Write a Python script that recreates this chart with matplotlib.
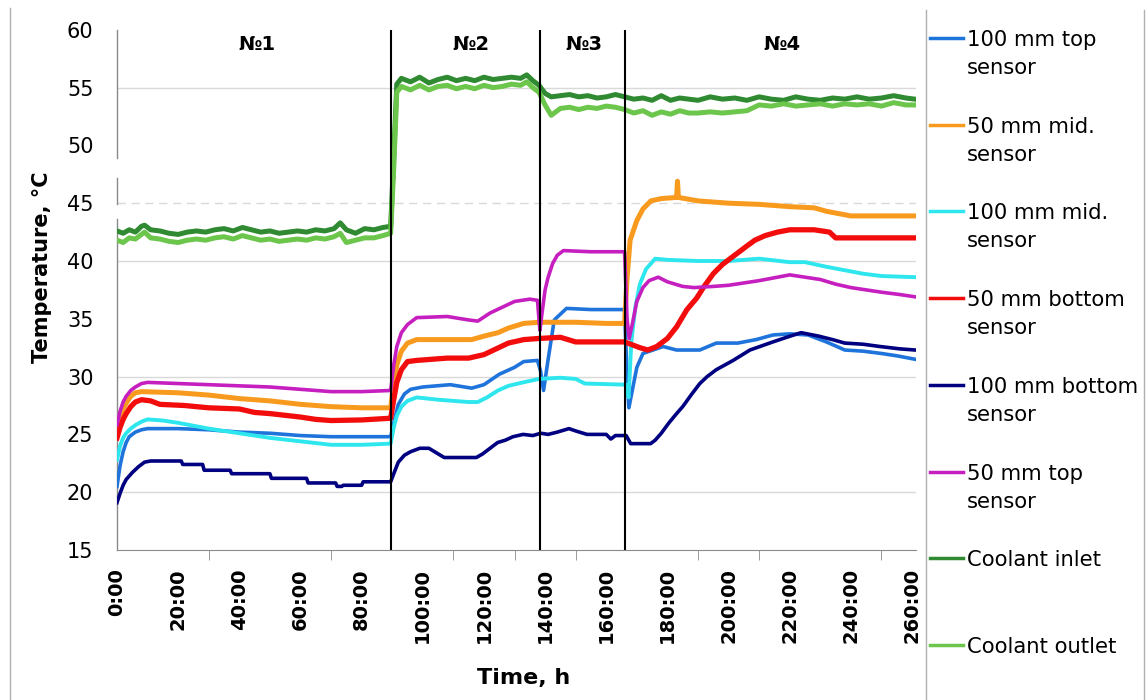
import matplotlib
matplotlib.use("Agg")
import matplotlib.pyplot as plt
from matplotlib.lines import Line2D

# ---- values (time in h, temperature in °C) ----
blue_t = [0, 1, 2, 3, 4, 6, 8, 10, 20, 30, 40, 50, 60, 70, 80, 89.5, 90.5, 92, 94, 96, 100,
          109, 116, 120, 125, 130, 133, 137.5, 138.5, 139.5, 141, 143, 147, 155, 166,
          166.8, 167.4, 170, 172, 178.6, 183, 190.6, 196, 203, 209, 214.5, 220, 226,
          232, 238, 244, 250, 255, 261]
blue_v = [20.5, 22.3, 23.5, 24.3, 24.8, 25.2, 25.4, 25.5, 25.5, 25.4, 25.2, 25.1, 24.9, 24.8, 24.8,
          24.8, 26.0, 27.6, 28.5, 28.9, 29.1, 29.3, 29.0, 29.3, 30.2, 30.8, 31.3, 31.4,
          30.5, 28.8, 31.5, 34.9, 35.9, 35.8, 35.8, 30.0, 27.3, 30.8, 32.0, 32.6, 32.3, 32.3,
          32.9, 32.9, 33.2, 33.6, 33.7, 33.6, 33.0, 32.3, 32.2, 32.0, 31.8, 31.5]

orange_t = [0, 1, 2, 3, 4.5, 6, 8, 20, 30, 40, 50, 60, 70, 80, 89.5, 90.5, 91.5, 93, 95, 98,
            110, 116, 120, 124.6, 128, 133, 138, 150, 160, 166, 166.8, 167.8, 170, 172, 174.6,
            178, 183, 183.3, 183.6, 190, 200, 210, 220, 228, 232, 240, 250, 261]
orange_v = [25.4, 26.4, 27.2, 27.7, 28.3, 28.6, 28.7, 28.6, 28.4, 28.1, 27.9, 27.6, 27.4, 27.3,
            27.3, 29.5, 31.0, 32.2, 32.9, 33.2, 33.2, 33.2, 33.5, 33.8, 34.2, 34.6, 34.7, 34.7,
            34.6, 34.6, 38.5, 41.8, 43.5, 44.5, 45.2, 45.4, 45.5, 46.9, 45.5, 45.2, 45.0, 44.9,
            44.7, 44.6, 44.3, 43.9, 43.9, 43.9]

cyan_t = [0, 1, 2, 3, 4.5, 6, 8, 10, 15, 20, 30, 40, 50, 60, 70, 80, 89.5, 90.5, 91.5, 93, 95, 98,
          105, 110, 115, 118, 121, 124.6, 128, 132.8, 138, 145, 150, 153, 166.5, 167.3, 168.2,
          169.5, 171, 173, 176, 180, 190, 200, 210, 220, 225, 232, 238, 244, 250, 261]
cyan_v = [22.8, 24.0, 24.7, 25.1, 25.5, 25.8, 26.1, 26.3, 26.2, 26.0, 25.5, 25.1, 24.7, 24.4, 24.1,
          24.1, 24.2, 25.6, 26.6, 27.4, 27.9, 28.2, 28.0, 27.9, 27.8, 27.8, 28.2, 28.8, 29.2,
          29.5, 29.8, 29.9, 29.8, 29.4, 29.3, 28.2, 33.0, 36.0, 38.0, 39.3, 40.2, 40.1, 40.0,
          40.0, 40.2, 39.9, 39.9, 39.5, 39.2, 38.9, 38.7, 38.6]

red_t = [0, 1, 2, 3, 4.5, 6, 8, 11, 14, 22, 30, 40, 45, 50, 60, 65, 70, 80, 89.5, 90.5, 91.5, 93,
         95, 98, 108, 115, 120, 124, 128, 133, 138, 145, 150, 160, 166, 168, 171, 173.6, 176.5,
         180, 183, 186.4, 189.6, 192, 195, 198, 203, 206, 208.6, 212, 216, 220, 228, 233, 235, 261]
red_v = [24.7, 25.6, 26.3, 26.8, 27.4, 27.8, 28.0, 27.9, 27.6, 27.5, 27.3, 27.2, 26.9, 26.8, 26.5,
         26.3, 26.2, 26.25, 26.4, 28.0, 29.5, 30.6, 31.3, 31.4, 31.6, 31.6, 31.9, 32.4, 32.9,
         33.2, 33.3, 33.4, 33.0, 33.0, 33.0, 32.8, 32.5, 32.3, 32.6, 33.3, 34.3, 35.8, 36.8,
         37.8, 38.9, 39.7, 40.7, 41.3, 41.8, 42.2, 42.5, 42.7, 42.7, 42.5, 42.0, 42.0]

navy_t = [0, 1, 2, 3, 5, 7, 9, 11, 21, 21.5, 28, 28.5, 37, 37.5, 50, 50.5, 62, 62.5, 71.5, 72,
          73.5, 74, 80, 80.5, 89.5, 90.5, 92, 94, 96, 99, 102, 104.5, 107, 117.5, 119.5, 121.5,
          124.5, 127, 129.5, 132.8, 136, 138.6, 141, 144, 147.8, 150, 153.7, 160, 161.5, 163,
          166.5, 168, 174.5, 176, 178, 180.5, 183, 185, 188, 190.6, 193, 196, 201.5, 207, 214.5,
          219, 223.7, 229.5, 234, 238, 244, 249.6, 256, 261]
navy_v = [19.1, 19.9, 20.6, 21.1, 21.7, 22.2, 22.6, 22.7, 22.7, 22.4, 22.4, 21.9, 21.9, 21.6,
          21.6, 21.2, 21.2, 20.8, 20.8, 20.5, 20.5, 20.6, 20.6, 20.9, 20.9, 21.6, 22.6, 23.2,
          23.5, 23.8, 23.8, 23.4, 23.0, 23.0, 23.3, 23.7, 24.3, 24.5, 24.8, 25.0, 24.9, 25.1,
          25.0, 25.2, 25.5, 25.3, 25.0, 25.0, 24.6, 24.9, 24.9, 24.2, 24.2, 24.5, 25.1, 26.0,
          26.8, 27.4, 28.5, 29.4, 30.0, 30.6, 31.4, 32.3, 33.0, 33.4, 33.8, 33.5, 33.2, 32.9,
          32.8, 32.6, 32.4, 32.3]

mag_t = [0, 1, 2, 3, 4.5, 6, 8, 10, 20, 30, 40, 50, 60, 70, 80, 89.5, 90.5, 91.5, 93, 95, 98,
         108, 115, 118, 122, 126, 130, 135, 137.5, 138.3, 139, 140, 141, 142.5, 144, 146, 155,
         166, 166.8, 167.5, 168.5, 170, 172, 174, 177, 180, 185, 188.7, 195, 200, 210, 220,
         225, 230, 235, 240, 245, 250, 256, 261]
mag_v = [25.8, 27.0, 27.8, 28.3, 28.8, 29.1, 29.4, 29.5, 29.4, 29.3, 29.2, 29.1, 28.9, 28.7, 28.7,
         28.8, 31.0, 32.6, 33.8, 34.5, 35.1, 35.2, 34.9, 34.8, 35.5, 36.0, 36.5, 36.7, 36.6,
         34.0, 35.5, 37.5, 38.6, 39.8, 40.5, 40.9, 40.8, 40.8, 35.0, 33.3, 34.5, 36.5, 37.7,
         38.3, 38.6, 38.2, 37.8, 37.7, 37.8, 37.9, 38.3, 38.8, 38.6, 38.4, 38.0, 37.7, 37.5,
         37.3, 37.1, 36.9]

coolant_t = [0, 2, 4, 6, 8, 9, 11, 14, 17, 20, 23, 26, 29, 32, 35, 38, 41, 44, 47, 50, 53, 56,
             59, 62, 65, 68, 71, 73, 75, 78, 81, 84, 87, 89.5, 90.5, 91.5, 93, 96, 99, 102, 105,
             108, 111, 114, 117, 120, 123, 126, 129, 132, 134, 136, 138, 140, 142, 145, 148,
             151, 154, 157, 160, 163, 166, 169, 172, 175, 178, 181, 184, 187, 190, 194, 198,
             202, 206, 210, 214, 218, 222, 226, 230, 234, 238, 242, 246, 250, 254, 258, 261]
inlet_v = [42.6, 42.4, 42.7, 42.5, 43.0, 43.1, 42.7, 42.6, 42.4, 42.3, 42.5, 42.6, 42.5, 42.7,
           42.8, 42.6, 42.9, 42.7, 42.5, 42.6, 42.4, 42.5, 42.6, 42.5, 42.7, 42.6, 42.8, 43.3,
           42.7, 42.4, 42.8, 42.7, 42.9, 43.0, 49.0, 55.3, 55.8, 55.5, 55.9, 55.4, 55.7, 55.9,
           55.6, 55.8, 55.6, 55.9, 55.7, 55.8, 55.9, 55.8, 56.1, 55.6, 55.2, 54.5, 54.2, 54.3,
           54.4, 54.2, 54.3, 54.1, 54.2, 54.4, 54.2, 54.0, 54.1, 53.9, 54.3, 53.9, 54.1, 54.0,
           53.9, 54.2, 54.0, 54.1, 53.9, 54.2, 54.0, 53.9, 54.2, 54.0, 53.9, 54.1, 54.0, 54.2,
           54.0, 54.1, 54.3, 54.1, 54.0]
outlet_v = [41.8, 41.6, 42.0, 41.9, 42.3, 42.5, 42.0, 41.9, 41.7, 41.6, 41.8, 41.9, 41.8, 42.0,
            42.1, 41.9, 42.2, 42.0, 41.8, 41.9, 41.7, 41.8, 41.9, 41.8, 42.0, 41.9, 42.1, 42.4,
            41.6, 41.8, 42.0, 42.0, 42.2, 42.4, 48.0, 54.6, 55.1, 54.8, 55.2, 54.8, 55.1, 55.2,
            54.9, 55.1, 54.9, 55.2, 55.0, 55.1, 55.3, 55.2, 55.5, 55.0, 54.6, 53.5, 52.6, 53.2,
            53.3, 53.1, 53.3, 53.2, 53.4, 53.3, 53.1, 52.8, 53.0, 52.6, 52.9, 52.7, 53.0, 52.8,
            52.8, 52.9, 52.8, 52.9, 53.0, 53.5, 53.4, 53.6, 53.4, 53.5, 53.6, 53.4, 53.6, 53.5,
            53.6, 53.4, 53.7, 53.5, 53.5]

# test stages: boundaries and labels
stage_bounds = [89.7, 138.3, 166.2]
stage_labels = ["№1", "№2", "№3", "№4"]
stage_label_x = [45.9, 115.8, 152.7, 217.6]
stage_label_y = 58.7

x_label_hours = list(range(0, 261, 20))
x_tick_marks = [0, 20, 30, 40, 60, 70, 100, 110, 130, 140, 150, 180, 190, 210, 220, 250, 260]
y_label_values = list(range(15, 61, 5))
y_grid = [20, 30, 40, 55]

series = [
    ("100 mm top\nsensor", blue_t, blue_v, "#1f74dc", 2.6),
    ("50 mm mid.\nsensor", orange_t, orange_v, "#f89a1e", 3.6),
    ("100 mm mid.\nsensor", cyan_t, cyan_v, "#2ee6ee", 2.8),
    ("50 mm bottom\nsensor", red_t, red_v, "#f20c0c", 3.8),
    ("100 mm bottom\nsensor", navy_t, navy_v, "#000080", 2.6),
    ("50 mm top\nsensor", mag_t, mag_v, "#c61fc0", 2.6),
    ("Coolant inlet", coolant_t, inlet_v, "#2f8a32", 3.6),
    ("Coolant outlet", coolant_t, outlet_v, "#6cc64c", 3.6),
]

W, H = 1148, 700
fig = plt.figure(figsize=(W / 100, H / 100), dpi=100)
ax = fig.add_axes([117 / W, 1 - 550 / H, 799 / W, 520.2 / H])

for label, t, v, color, lw in series:
    ax.plot(t, v, color=color, lw=lw, zorder=3)

ax.set_xlim(0, 261.3)
ax.set_ylim(15, 60)

# gridlines (the 45 line looks dashed in the original)
for g in y_grid:
    ax.axhline(g, color="#d9d9d9", lw=1, zorder=0)
ax.axhline(45, color="#d9d9d9", lw=1, ls=(0, (6, 4)), zorder=0)

# stage separators and labels
for b in stage_bounds:
    ax.axvline(b, color="black", lw=1.5, zorder=5)
for lab, lx in zip(stage_labels, stage_label_x):
    ax.text(lx, stage_label_y, lab, ha="center", va="center", fontsize=14, fontweight="bold")

# axes decoration
gray = "#8a8a8a"
for s in ["top", "right", "left"]:
    ax.spines[s].set_visible(False)
ax.spines["bottom"].set_color(gray)
for y0, y1 in [(15, 43.6), (44.9, 47.2), (48.9, 60)]:
    ax.plot([0, 0], [y0, y1], color=gray, lw=1, clip_on=False, zorder=2)

ax.set_xticks(x_label_hours)
ax.set_xticklabels([f"{h}:00" for h in x_label_hours], rotation=90, fontsize=14,
                   fontweight="bold", va="top")
ax.set_xticks(x_tick_marks, minor=True)
ax.set_yticks(y_label_values)
ax.set_yticklabels([str(v) for v in y_label_values], fontsize=15)
ax.set_yticks(y_grid + [45], minor=True)
ax.tick_params(axis="x", which="major", length=0, pad=13)
ax.tick_params(axis="y", which="major", length=0, pad=17)
ax.tick_params(which="minor", length=7, color=gray, direction="out")

ax.set_ylabel("Temperature, °C", fontsize=15, fontweight="bold")
ax.yaxis.set_label_coords((42 - 117) / 799, (550 - 267) / 520.2)
ax.yaxis.label.set_va("center")
ax.set_xlabel("Time, h", fontsize=16, fontweight="bold")
ax.xaxis.set_label_coords((524 - 117) / 799, (550 - 678) / 520.2)
ax.xaxis.label.set_va("center")

# legend panel on the right, drawn by hand like the original
for i, (label, t, v, color, lw) in enumerate(series):
    y = 38 + 86.7 * i
    fig.add_artist(Line2D([930 / W, 963 / W], [1 - y / H] * 2, color=color, lw=2.5))
    for j, line in enumerate(label.split("\n")):
        fig.text(967 / W, 1 - (y + 8 + 28 * j) / H, line, fontsize=15.2, va="baseline")

# thin frame lines of the original figure
for xf, y_top in [(10, 8), (926, 10), (1144, 10)]:
    fig.add_artist(Line2D([xf / W] * 2, [0, 1 - y_top / H], color="#b0b0b0", lw=1))

fig.savefig("out.png", dpi=100)
